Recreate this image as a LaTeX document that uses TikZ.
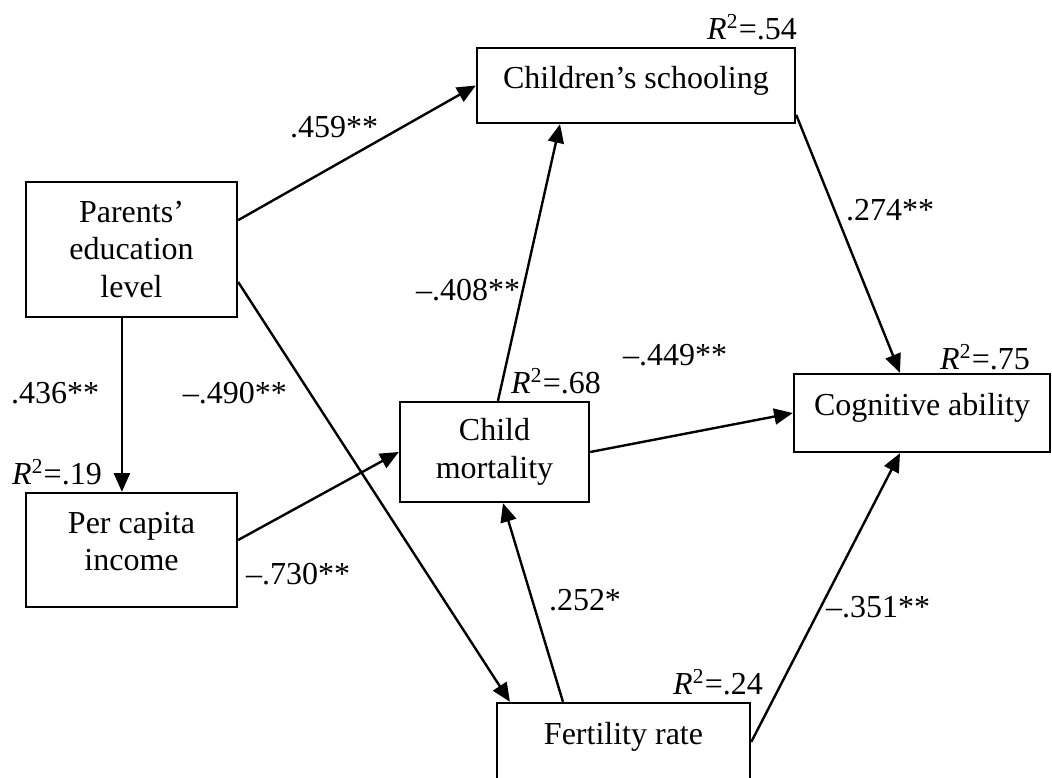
\documentclass[tikz,border=0pt]{standalone}
\usepackage{fontspec}
\setmainfont{Liberation Serif}
\usetikzlibrary{arrows.meta}

\begin{document}
\begin{tikzpicture}[x=0.375pt, y=-0.375pt,
                    every node/.style={font=\fontsize{12}{14}\selectfont},
                    var/.style={rectangle, draw, line width=0.9pt, inner sep=0pt, align=center},
                    oneline/.style={text height=8pt, text depth=6pt},
                    coef/.style={inner sep=0pt},
                    line width=0.9pt, >={Triangle[length=7pt,width=6pt]}]
\useasboundingbox (0,0) rectangle (1052,778);

% Nodes
\node (parents) [var, minimum width=79.1pt, minimum height=50.6pt] at (131.5,249.5) {Parents'\\education\\level};
\node (income) [var, minimum width=79.1pt, minimum height=42.75pt, text depth=6.6pt] at (131.5,550) {Per capita\\income};
\node (schooling) [var, oneline, minimum width=119.25pt, minimum height=28.1pt] at (636,85.5) {Children's schooling};
\node (mortality) [var, minimum width=70.9pt, minimum height=37.5pt] at (494.5,452) {Child\\mortality};
\node (cognitive) [var, oneline, minimum width=96pt, minimum height=29.25pt] at (922,413) {Cognitive ability};
\node (fertility) [var, oneline, minimum width=94.9pt, minimum height=29.25pt] at (623.5,742) {Fertility rate};

% R squared
\node (r54) [coef] at (752,27) {\textit{R}\textsuperscript{2}=.54};
\node (r19) [coef] at (57,472) {\textit{R}\textsuperscript{2}=.19};
\node (r68) [coef] at (556,381) {\textit{R}\textsuperscript{2}=.68};
\node (r75) [coef] at (985,357) {\textit{R}\textsuperscript{2}=.75};
\node (r24) [coef] at (718,682) {\textit{R}\textsuperscript{2}=.24};

% Edges
\draw[->] ([yshift=11pt]parents.east) -- (schooling.west);
\draw[->] ([xshift=-3.6pt]parents.south) -- ([xshift=-3.6pt]income.north);
\draw[->] ([yshift=-12.2pt]parents.east) -- ([xshift=-42.6pt]fertility.north);
\draw[->] ([yshift=3.75pt]income.east) -- (mortality.west);
\draw[->] ([xshift=1.3pt]mortality.north) -- ([xshift=-28.5pt]schooling.south);
\draw[->] (mortality.east) -- (cognitive.west);
\draw[->] ([xshift=-22.7pt]fertility.north) -- ([xshift=3.2pt]mortality.south);
\draw[->] (fertility.east) -- ([xshift=-8.25pt]cognitive.south);
\draw[->] ([yshift=-11pt]schooling.east) -- ([xshift=-8.25pt]cognitive.north);

% Coefficients
\node (c459) [coef] at (334,127) {.459**};
\node (c436) [coef] at (55,393) {.436**};
\node (c490) [coef] at (235,393) {--.490**};
\node (c730) [coef] at (298,574) {--.730**};
\node (c408) [coef] at (468,290) {--.408**};
\node (c449) [coef] at (675,355) {--.449**};
\node (c252) [coef] at (585,600) {.252*};
\node (c351) [coef] at (878,607) {--.351**};
\node (c274) [coef] at (890,210) {.274**};

\end{tikzpicture}
\end{document}
